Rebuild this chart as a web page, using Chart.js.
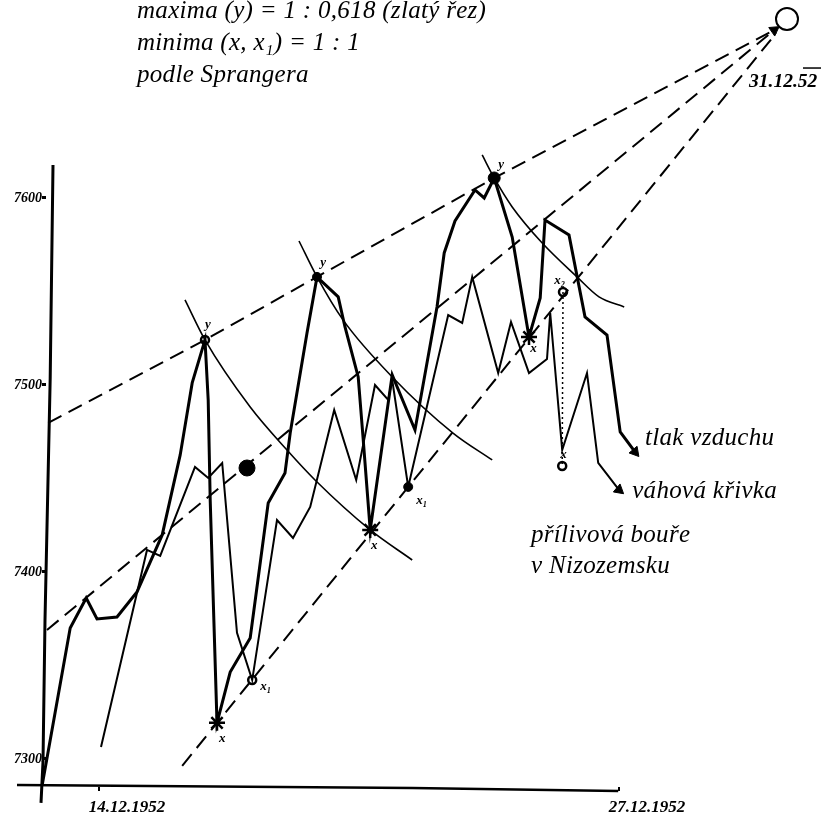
<!DOCTYPE html>
<html>
<head>
<meta charset="utf-8">
<title>Sprangerova křivka</title>
<script src="https://cdn.jsdelivr.net/npm/chart.js@4"></script>
<style>
    html, body { margin: 0; padding: 0; background: #fff; }
    canvas { display: block; }
</style>
</head>
<body>
<canvas id="myChart" width="824" height="825"></canvas>
<script>
// x = day of December 1952, y = air pressure
const xTicks = [14, 27];
const xTickLabels = ['14.12.1952', '27.12.1952'];
const yTicks = [730, 740, 750, 760];
const yTickLabels = ['7300', '7400', '7500', '7600'];

// tlak vzduchu
const pressureDays = [12.58, 13.28, 13.68, 13.95, 14.45, 14.95, 15.58, 16.03, 16.33, 16.65, 16.73, 16.78, 16.95, 17.28, 17.78, 18.23, 18.65, 18.78, 19.2, 19.45, 19.98, 20.15, 20.48, 20.6, 20.78, 21.33, 21.9, 22.45, 22.63, 22.9, 23.4, 23.63, 23.88, 24.33, 24.75, 25.03, 25.15, 25.75, 26.15, 26.7, 27.03, 27.4];
const pressureValues = [728.61, 737.0, 738.61, 737.49, 737.59, 738.93, 741.98, 746.26, 750.11, 752.41, 749.2, 743.85, 731.93, 734.65, 736.47, 743.69, 745.29, 747.43, 752.78, 755.78, 754.71, 753.1, 750.43, 747.22, 742.25, 750.54, 747.59, 754.17, 757.06, 758.77, 760.43, 760.0, 761.07, 757.91, 752.57, 754.65, 758.82, 758.02, 753.64, 752.67, 747.49, 746.42];

// váhová křivka
const weightDays = [14.05, 15.2, 15.53, 16.4, 16.73, 17.08, 17.45, 17.83, 18.45, 18.85, 19.28, 19.88, 20.43, 20.9, 21.23, 21.33, 21.73, 22.73, 23.08, 23.33, 23.98, 24.3, 24.75, 25.2, 25.28, 25.58, 26.2, 26.48, 27.0];
const weightValues = [730.64, 741.18, 740.86, 745.62, 745.03, 745.83, 736.74, 734.22, 742.78, 741.82, 743.48, 748.66, 744.92, 750.0, 749.2, 750.27, 744.55, 753.74, 753.32, 755.78, 750.64, 753.37, 750.64, 751.39, 753.85, 746.52, 750.64, 745.83, 744.39];

// arcs through the maxima
const arc1Days = [16.15, 16.65, 17.78, 18.7, 19.4, 20.78, 21.83];
const arc1Values = [754.55, 752.41, 748.82, 746.52, 744.92, 742.25, 740.64];
const arc2Days = [19.0, 19.45, 20.1, 21.33, 22.85, 23.83];
const arc2Values = [757.7, 755.78, 753.48, 750.43, 747.43, 745.99];
const arc3Days = [23.58, 23.88, 24.33, 25.08, 25.95, 26.5, 27.13];
const arc3Values = [762.3, 761.07, 759.52, 757.59, 755.78, 754.71, 754.17];

// dashed rays meeting on 31.12.52
const rayTopDays = [12.73, 16.65, 19.45, 23.88, 30.88];
const rayTopValues = [747.97, 752.41, 755.78, 761.07, 768.98];
const rayMidDays = [12.7, 30.88];
const rayMidValues = [736.9, 768.98];
const rayLowDays = [16.08, 30.93];
const rayLowValues = [729.63, 768.82];

// dotted drop from x2 and the hand drawn axes
const dropDays = [25.6, 25.58];
const dropValues = [754.97, 745.67];
const axisYDays = [12.85, 12.78, 12.65, 12.6, 12.55];
const axisYValues = [761.76, 750.37, 737.43, 729.84, 727.65];
const axisXDays = [11.95, 21.83, 26.98];
const axisXValues = [728.61, 728.45, 728.29];
const overlineDays = [31.6, 32.05];
const overlineValues = [766.95, 766.95];

// markers
const openDays = [16.65, 17.83, 25.6, 25.58];
const openValues = [752.41, 734.22, 754.97, 745.67];
const filledDays = [19.45, 21.73];
const filledValues = [755.78, 744.55];
const topDays = [23.88];
const topValues = [761.07];
const starDays = [16.95, 20.78, 24.75];
const starValues = [731.93, 742.25, 752.57];
const blobDays = [17.7];
const blobValues = [745.56];
const sunDays = [31.2];
const sunValues = [769.57];
const arrowDays = [27.4, 27.0, 30.88];
const arrowValues = [746.42, 744.39, 768.98];
const arrowAngles = [140, 130, 55];

// texts placed in chart units
const noteTexts = ['maxima (y) = 1 : 0,618 (zlatý řez)', 'minima (x, x₁) = 1 : 1', 'podle Sprangera', 'tlak vzduchu', 'váhová křivka', 'přílivová bouře', 'v Nizozemsku'];
const noteDays = [14.95, 14.95, 14.95, 27.65, 27.33, 24.8, 24.8];
const noteValues = [769.63, 767.91, 766.2, 746.79, 743.96, 741.6, 739.95];
const markTexts = ['y', 'y', 'y', 'x', 'x₁', 'x', 'x₁', 'x', 'x₂', 'x'];
const markDays = [16.65, 19.53, 23.98, 17.0, 18.03, 20.8, 21.93, 24.78, 25.38, 25.53];
const markValues = [753.05, 756.36, 761.6, 730.91, 733.69, 741.23, 743.64, 751.76, 755.4, 746.1];
const endLabel = '31.12.52';
const endLabelDay = 30.25;
const endLabelValue = 765.94;

function points(days, values) {
    return days.map(function(d, i) { return { x: d, y: values[i] }; });
}

function lineSet(days, values, width, extra) {
    return Object.assign({
        data: points(days, values),
        showLine: true,
        borderColor: '#000',
        borderWidth: width,
        pointRadius: 0,
        clip: false
    }, extra || {});
}

function markerSet(days, values, style, radius, fill, width, extra) {
    return Object.assign({
        data: points(days, values),
        showLine: false,
        pointStyle: style,
        pointRadius: radius,
        pointBackgroundColor: fill,
        pointBorderColor: '#000',
        pointBorderWidth: width,
        clip: false
    }, extra || {});
}

// drop the room Chart.js keeps for tick labels, the plot has to fill the page
function noMargins(scale) {
    scale.paddingLeft = 0;
    scale.paddingRight = 0;
    scale.paddingTop = 0;
    scale.paddingBottom = 0;
}

const dash = [15, 8];

const textPlugin = {
    id: 'notes',
    afterDatasetsDraw(chart) {
        const ctx = chart.ctx;
        const x = chart.scales.x;
        const y = chart.scales.y;
        ctx.save();
        ctx.fillStyle = '#000';
        ctx.textAlign = 'left';
        ctx.textBaseline = 'alphabetic';
        ctx.font = 'italic 25px "Liberation Serif"';
        ctx.letterSpacing = '0.3px';
        noteTexts.forEach(function(t, i) {
            ctx.fillText(t, x.getPixelForValue(noteDays[i]), y.getPixelForValue(noteValues[i]));
        });
        ctx.letterSpacing = '0px';
        ctx.font = 'italic bold 13px "Liberation Serif"';
        markTexts.forEach(function(t, i) {
            ctx.fillText(t, x.getPixelForValue(markDays[i]), y.getPixelForValue(markValues[i]));
        });
        ctx.font = 'italic bold 19.5px "Liberation Serif"';
        ctx.fillText(endLabel, x.getPixelForValue(endLabelDay), y.getPixelForValue(endLabelValue));
        ctx.restore();
    }
};

new Chart(document.getElementById('myChart'), {
    type: 'scatter',
    data: {
        datasets: [
            lineSet(axisYDays, axisYValues, 3),
            lineSet(axisXDays, axisXValues, 2.5),
            lineSet(rayTopDays, rayTopValues, 2, { borderDash: dash }),
            lineSet(rayMidDays, rayMidValues, 2, { borderDash: dash }),
            lineSet(rayLowDays, rayLowValues, 2, { borderDash: dash }),
            lineSet(arc1Days, arc1Values, 1.6, { cubicInterpolationMode: 'monotone' }),
            lineSet(arc2Days, arc2Values, 1.6, { cubicInterpolationMode: 'monotone' }),
            lineSet(arc3Days, arc3Values, 1.6, { cubicInterpolationMode: 'monotone' }),
            lineSet(pressureDays, pressureValues, 3),
            lineSet(weightDays, weightValues, 2),
            lineSet(dropDays, dropValues, 1.5, { borderDash: [2, 3] }),
            lineSet(overlineDays, overlineValues, 1.5),
            markerSet(openDays, openValues, 'circle', 4, '#fff', 2.5),
            markerSet(filledDays, filledValues, 'circle', 4.5, '#000', 1),
            markerSet(topDays, topValues, 'circle', 6, '#000', 1),
            markerSet(starDays, starValues, 'star', 8, '#000', 2.5),
            markerSet(blobDays, blobValues, 'circle', 8, '#000', 1),
            markerSet(sunDays, sunValues, 'circle', 11, '#fff', 2),
            markerSet(arrowDays, arrowValues, 'triangle', 6, '#000', 1, { pointRotation: arrowAngles })
        ]
    },
    options: {
        responsive: false,
        animation: false,
        layout: { padding: 0, autoPadding: false },
        plugins: { legend: { display: false }, tooltip: { enabled: false } },
        scales: {
            x: {
                type: 'linear',
                min: 12.675,
                max: 32.125,
                afterBuildTicks(scale) { scale.ticks = xTicks.map(function(v) { return { value: v }; }); },
                afterFit(scale) { scale.height = 38; noMargins(scale); },
                grid: { drawOnChartArea: false, color: '#000', tickLength: 4, lineWidth: 2 },
                border: { display: false },
                ticks: {
                    color: '#000',
                    autoSkip: false,
                    maxRotation: 0,
                    labelOffset: 28,
                    padding: 6,
                    font: { family: 'Liberation Serif', style: 'italic', weight: 'bold', size: 17 },
                    callback: function(v) { return xTickLabels[xTicks.indexOf(v)]; }
                }
            },
            y: {
                type: 'linear',
                min: 728.5,
                max: 770.588,
                afterBuildTicks(scale) { scale.ticks = yTicks.map(function(v) { return { value: v }; }); },
                afterFit(scale) { scale.width = 46; noMargins(scale); },
                grid: { drawOnChartArea: false, color: '#000', tickLength: 4, lineWidth: 3 },
                border: { display: false },
                ticks: {
                    color: '#000',
                    autoSkip: false,
                    padding: 0,
                    font: { family: 'Liberation Serif', style: 'italic', weight: 'bold', size: 14 },
                    callback: function(v) { return yTickLabels[yTicks.indexOf(v)]; }
                }
            }
        }
    },
    plugins: [textPlugin]
});
</script>
</body>
</html>
